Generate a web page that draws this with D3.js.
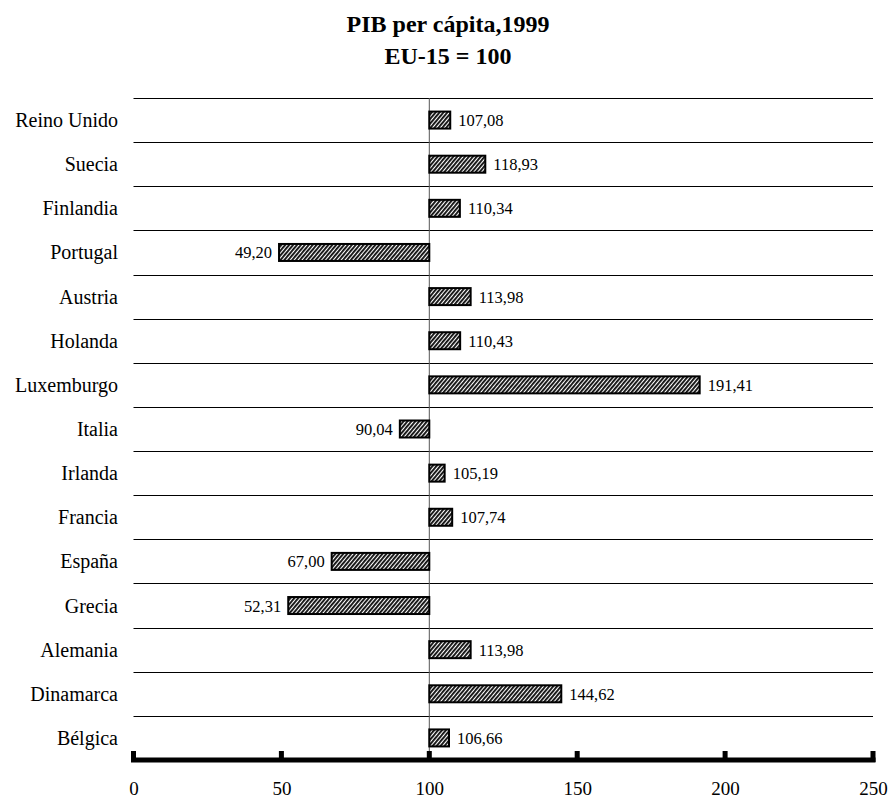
<!DOCTYPE html>
<html><head><meta charset="utf-8">
<script src="https://cdn.jsdelivr.net/npm/d3@7"></script>
<style>body{margin:0;background:#fff;}svg{display:block;}text{font-family:"Liberation Serif","Times New Roman",serif;}</style>
</head><body>
<svg id="c" width="893" height="800"></svg>
<script>
const categories = ["Reino Unido","Suecia","Finlandia","Portugal","Austria","Holanda","Luxemburgo","Italia","Irlanda","Francia","España","Grecia","Alemania","Dinamarca","Bélgica"];
const values = [107.08,118.93,110.34,49.20,113.98,110.43,191.41,90.04,105.19,107.74,67.00,52.31,113.98,144.62,106.66];
const ticks = [0,50,100,150,200,250];
const baseline = 100;
const titleLines = ["PIB per cápita,1999","EU-15 = 100"];

(function(){
const svg = d3.select("#c");
const mLeft = 133.5, mRight = 873, mTop = 98, mBottom = 760;
const x = d3.scaleLinear().domain([0,250]).range([mLeft,mRight]);
const y = d3.scaleBand().domain(categories).range([mTop,mBottom]).paddingInner(0).paddingOuter(0);

const defs = svg.append("defs");
const pat = defs.append("pattern").attr("id","hatch").attr("patternUnits","userSpaceOnUse")
  .attr("width",3).attr("height",3).attr("patternTransform","rotate(40)");
pat.append("rect").attr("width",3).attr("height",3).attr("fill","#fff");
pat.append("rect").attr("width",1.9).attr("height",3).attr("fill","#111");

svg.append("g").selectAll("text").data(titleLines).join("text")
  .attr("x",448).attr("y",(d,i)=>32+i*32).attr("text-anchor","middle")
  .attr("font-size",24).attr("font-weight","bold").text(d=>d);

svg.append("g").selectAll("line").data(categories).join("line")
  .attr("x1",mLeft).attr("x2",mRight)
  .attr("y1",d=>Math.round(y(d))+0.5).attr("y2",d=>Math.round(y(d))+0.5)
  .attr("stroke","#000").attr("stroke-width",1);

svg.append("line").attr("x1",x(baseline)).attr("x2",x(baseline))
  .attr("y1",mTop).attr("y2",mBottom).attr("stroke","#555").attr("stroke-width",1);

const bh = 17;
svg.append("g").selectAll("rect").data(categories).join("rect")
  .attr("x",(d,i)=>x(Math.min(values[i],baseline)))
  .attr("width",(d,i)=>Math.abs(x(values[i])-x(baseline)))
  .attr("y",d=>y(d)+y.bandwidth()/2-bh/2)
  .attr("height",bh)
  .attr("fill","url(#hatch)").attr("stroke","#000").attr("stroke-width",2);

const fmt = v => v.toFixed(2).replace(".",",");
svg.append("g").selectAll("text").data(categories).join("text")
  .attr("x",(d,i)=>values[i]>=baseline ? x(values[i])+8 : x(values[i])-7)
  .attr("y",d=>y(d)+y.bandwidth()/2+6)
  .attr("text-anchor",(d,i)=>values[i]>=baseline?"start":"end")
  .attr("font-size",16.5).text((d,i)=>fmt(values[i]));

svg.append("g").selectAll("text").data(categories).join("text")
  .attr("x",118).attr("y",d=>y(d)+y.bandwidth()/2+7)
  .attr("text-anchor","end").attr("font-size",20).text(d=>d);

const ax = svg.append("g").attr("transform",`translate(0,${mBottom})`)
  .call(d3.axisBottom(x).tickValues(ticks).tickSize(0).tickPadding(22).tickFormat(d3.format("d")));
ax.select(".domain").remove();
ax.selectAll("text").attr("font-size",19).attr("font-family","Liberation Serif").attr("fill","#000");
svg.append("line").attr("x1",mLeft-2.5).attr("x2",mRight+2.5).attr("y1",mBottom).attr("y2",mBottom)
  .attr("stroke","#000").attr("stroke-width",5);
svg.append("g").selectAll("rect").data(ticks).join("rect")
  .attr("x",d=>x(d)-2.5).attr("y",mBottom-9).attr("width",5).attr("height",11).attr("fill","#000");
})();
</script>
</body></html>
